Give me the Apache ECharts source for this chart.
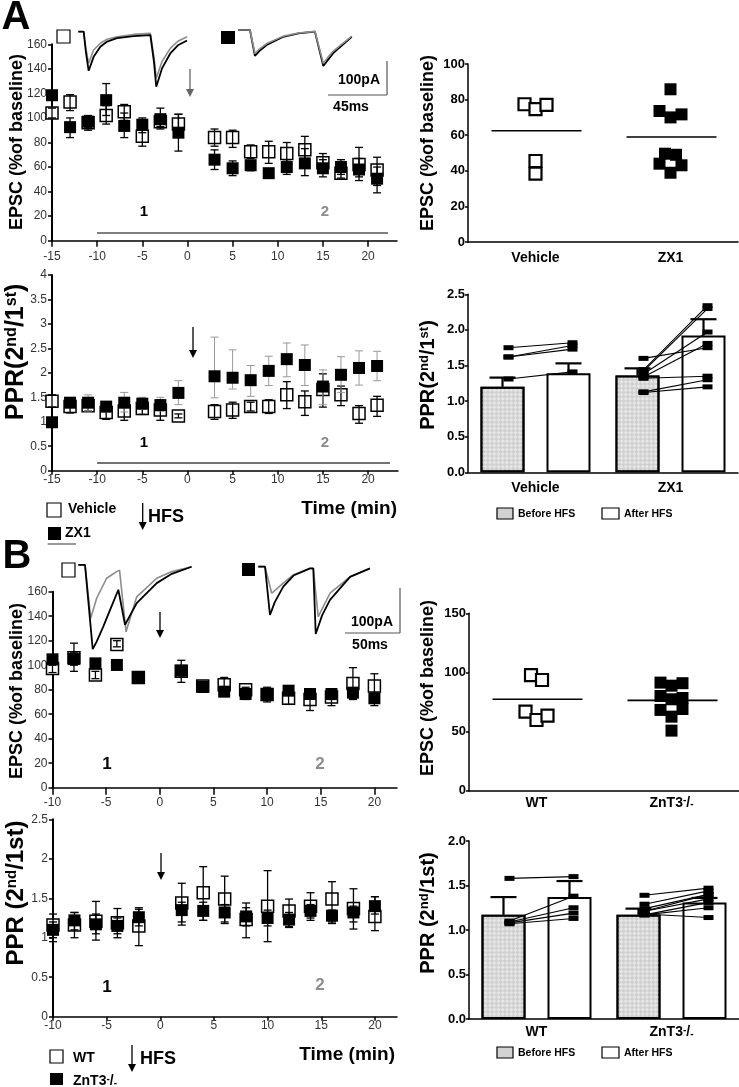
<!DOCTYPE html>
<html><head><meta charset="utf-8">
<script src="https://cdn.jsdelivr.net/npm/echarts@6/dist/echarts.min.js"></script>
<style>html,body{margin:0;padding:0;background:#fff}#c{width:739px;height:1087px}</style>
</head><body><div id="c"></div>
<script>
// ---------------- DATA ----------------
// Panel A time course (min)
const timeA = [-15,-13,-11,-9,-7,-5,-3,-1,3,5,7,9,11,13,15,17,19,21];
const epscVehicle   = [104,113,96,102,105,85,97,95,84,84,72.5,72.5,71,74,63.5,55,62,57.5];
const epscVehicleLo = [100,106,92,95,98,77,93,85,77,76,67,63,63,64,57,51,52,45];
const epscVehicleHi = [108,119,100,110,111,92,101,103,91,90,78,81,80,85,71,60,76,68];
const epscZX1   = [118.5,92.5,97,114.5,93.5,94.5,99,88,66,59,61.5,55,60,63,59,60,58,50.5];
const epscZX1Lo = [115,84,90,102,84,88,91,73,58,53,57,53,54,53,52,54,49,39];
const epscZX1Hi = [122,100,102,128,104,100,108,103,74,65,64,57,66,75,66,66,67,60];
const pprVehicle   = [1.42,1.31,1.33,1.19,1.22,1.27,1.24,1.12,1.21,1.24,1.31,1.31,1.55,1.41,1.66,1.55,1.17,1.34];
const pprVehicleLo = [1.30,1.18,1.22,1.05,1.03,1.15,1.03,1.08,1.05,1.07,1.22,1.17,1.27,1.13,1.30,1.33,0.97,1.11];
const pprVehicleHi = [1.55,1.45,1.45,1.30,1.40,1.45,1.45,1.16,1.35,1.40,1.40,1.45,1.82,1.63,1.98,1.73,1.33,1.52];
const pprZX1   = [0.99,1.39,1.39,1.31,1.39,1.37,1.34,1.59,1.93,1.90,1.85,2.04,2.28,2.16,1.72,1.96,2.10,2.14];
const pprZX1Lo = [0.99,1.30,1.22,1.20,1.20,1.25,1.22,1.35,1.49,1.67,1.52,1.74,1.92,1.74,1.35,1.60,1.75,1.84];
const pprZX1Hi = [0.99,1.48,1.55,1.40,1.60,1.50,1.50,1.84,2.73,2.47,2.15,2.34,2.61,2.57,2.06,2.33,2.45,2.44];
const ticksA = [-15,-10,-5,0,5,10,15,20];

// Panel B time course (min)
const timeB = [-10,-8,-6,-4,-2,2,4,6,8,10,12,14,16,18,20];
const epscWT   = [97.4,106,92,117,90,95,83,84,80,76,73,72,74,85,83];
const epscWTLo = [94,100,89,115,88,93,81,78,73,73,68,63,67,72,74];
const epscWTHi = [100,110,95,120,92,97,85,90,82,79,78,78,79,98,93];
const epscKO   = [104.8,105,101.5,100.2,90,95.5,82.4,78.4,76.5,76.5,79.2,76.5,76.5,77.6,73];
const epscKOLo = [101,95,98,98,88,86,78,76,72,70,76,73,72,73,67];
const epscKOHi = [108,118,104,102,92,104,86,81,79,82,83,79,78,80,76];
const pprWT   = [1.16,1.16,1.21,1.19,1.15,1.44,1.57,1.49,1.23,1.40,1.34,1.40,1.49,1.37,1.27];
const pprWTLo = [1.00,1.00,0.97,1.00,0.90,1.16,1.22,1.18,1.00,0.95,1.13,1.22,1.18,1.11,1.09];
const pprWTHi = [1.30,1.32,1.46,1.37,1.38,1.69,1.90,1.78,1.44,1.85,1.49,1.57,1.71,1.62,1.52];
const pprKO   = [1.10,1.22,1.17,1.15,1.26,1.35,1.34,1.32,1.27,1.25,1.23,1.34,1.28,1.32,1.40];
const pprKOLo = [0.95,1.10,1.05,1.05,1.15,1.20,1.22,1.20,1.15,1.15,1.14,1.25,1.20,1.20,1.30];
const pprKOHi = [1.20,1.32,1.30,1.25,1.36,1.45,1.45,1.42,1.38,1.35,1.32,1.42,1.35,1.40,1.52];
const ticksB = [-10,-5,0,5,10,15,20];

// Scatter (EPSC % of baseline), slot = column within the cluster
const groupsA = ['Vehicle','ZX1'];
const scatVehicle     = [77.4,74.6,77.0,45.5,38.4];
const scatVehicleSlot = [-1,0,1,0,0];
const scatZX1     = [85.8,73.6,70.0,71.7,49.6,49.0,44.0,43.1,38.9];
const scatZX1Slot = [0,-1,0,1,-0.5,0.5,-1,1,0];
const meanA = [62.5,59];
const groupsB = ['WT','ZnT3-/-'];
const scatWT     = [97.8,93.6,66.9,59.8,63.5];
const scatWTSlot = [-0.5,0.5,-1,0,1];
const scatKO     = [91.4,88.8,90.9,80.1,77.3,78.4,68.3,62.6,69.1,50.8];
const scatKOSlot = [-1,0,1,-1,0,1,-1,0,1,0];
const meanB = [77.3,76.4];

// Bars (PPR before / after HFS)
const barBeforeA = [1.20,1.36], barBeforeAErr = [1.33,1.46];
const barAfterA  = [1.39,1.92], barAfterAErr  = [1.53,2.15];
const pairsVehicle = [[1.75,1.82],[1.62,1.78],[1.62,1.73],[1.31,1.41]];
const pairsZX1 = [[1.60,1.75],[1.44,2.34],[1.42,2.30],[1.38,1.97],[1.34,1.81],[1.32,1.35],[1.13,1.30],[1.12,1.20]];
const barBeforeB = [1.17,1.17], barBeforeBErr = [1.37,1.24];
const barAfterB  = [1.37,1.31], barAfterBErr  = [1.55,1.36];
const pairsWT = [[1.58,1.60],[1.10,1.38],[1.09,1.25],[1.08,1.19],[1.07,1.13]];
const pairsKO = [[1.39,1.47],[1.29,1.44],[1.24,1.40],[1.21,1.35],[1.17,1.25],[1.18,1.14],[1.21,1.40],[1.17,1.31]];

// Example traces [ms, pA]
const trVehBlack = [[0,0],[4.1,0],[5.8,-60],[7.9,-115],[11.7,-74],[16.8,-44],[22,-29],[29.5,-19],[42.2,-13],[55,-10],[56.2,-15],[57.8,-90],[59.5,-162],[63.9,-108],[70.2,-64],[76,-40],[83,-26]];
const trVehGrey  = [[0,0],[4.1,0],[5.8,-50],[7.9,-93],[11.7,-54],[16.8,-34],[22,-22],[29.5,-15],[42.2,-8],[55,-5],[56.2,-8],[57.8,-75],[59.5,-137],[63.9,-88],[70.2,-49],[76,-28],[83,-15]];
const trZX1Black = [[0,0],[8.9,0],[12.7,-76],[16,-62],[21.7,-44],[34.4,-20],[46,-10],[58.5,-5],[59.8,-5],[64.9,-106],[68,-90],[72.5,-68],[86.6,-20]];
const trZX1Grey  = [[0,0],[8.9,0],[12.7,-69],[16,-56],[21.7,-40],[34.4,-18],[46,-9],[58.5,-4],[59.8,-4],[64.9,-98],[68,-82],[72.5,-62],[86.6,-18]];
const trWTBlack = [[0,0],[6.1,0],[13.1,-190],[16.7,-173],[22.7,-139],[28.8,-102],[36.4,-56],[37.9,-60],[42.5,-135],[53.1,-86],[71.3,-41],[85,-20],[103,-4]];
const trWTGrey  = [[0,0],[6.1,0],[11.3,-120],[16.7,-75],[25.8,-30],[34.9,-15],[37.5,-12],[43.4,-151],[53.1,-72],[71.3,-30],[85,-15],[103,-4]];
const trKOBlack = [[0,0],[6.1,0],[10.6,-109],[15,-80],[22.7,-45],[32,-20],[47,-4],[50,-4],[52.2,-152],[58,-110],[65.2,-75],[83.4,-23],[101.5,-4]];
const trKOGrey  = [[0,0],[6.1,0],[12.2,-60],[22.7,-37],[32,-18],[47,-4],[50,-4],[54.5,-113],[65.2,-60],[83.4,-23],[101.5,-4]];

// ---------------- STYLE / LAYOUT ----------------
const FF = 'Liberation Sans, Arial, sans-serif';
const GREY = '#8c8c8c';
const BAR_W = 44, BAR_OFF = 33;

const grids = [
  {left:52, top:44.3, width:345, height:196.4},   // 0 A EPSC
  {left:52, top:275, width:346, height:195.7},    // 1 A PPR
  {left:468, top:64, width:270, height:178},      // 2 A scatter
  {left:468, top:294.3, width:270, height:178},   // 3 A bars
  {left:52.5, top:591.7, width:344.5, height:196},// 4 B EPSC
  {left:53, top:819.3, width:344, height:197.4},  // 5 B PPR
  {left:469, top:613.3, width:270, height:177.4}, // 6 B scatter
  {left:469, top:841, width:270, height:178},     // 7 B bars
  {left:78.3, top:24.9, width:115, height:75},    // 8 trace A vehicle
  {left:238.3, top:23.2, width:118, height:75},   // 9 trace A ZX1
  {left:78.3, top:556.1, width:118, height:100},  // 10 trace B WT
  {left:258.3, top:557.8, width:115, height:100}  // 11 trace B KO
];
const traceScale = [[1.31,0.34],[1.31,0.34],[1.1,0.443],[1.1,0.443]];

const xAxes = [], yAxes = [];
function tcX(g, min, max, ticks, margin, tlen) {
  xAxes.push({type:'value', gridIndex:g, min, max,
    axisLine:{show:true, onZero:false, lineStyle:{color:'#000', width:1.5}},
    axisTick:{show:true, customValues:ticks, length:tlen, lineStyle:{color:'#000', width:1.5}},
    axisLabel:{show:true, customValues:ticks, color:'#333', fontSize:12, margin, fontFamily:FF},
    splitLine:{show:false}});
}
function tcY(g, max, interval) {
  yAxes.push({type:'value', gridIndex:g, min:0, max, interval,
    axisLine:{show:true, onZero:false, lineStyle:{color:'#000', width:2}},
    axisTick:{show:true, length:4, lineStyle:{color:'#000', width:1.5}},
    axisLabel:{color:'#333', fontSize:12, margin:5, fontFamily:FF},
    splitLine:{show:false}});
}
function rX(g, cats, margin) {
  xAxes.push({type:'category', gridIndex:g, data:cats,
    axisLine:{show:true, onZero:false, lineStyle:{color:'#000', width:1.5}},
    axisTick:{show:false},
    axisLabel:{color:'#000', fontSize:14, fontWeight:'bold', margin, fontFamily:FF, interval:0, hideOverlap:false,
      formatter: v => v === 'ZnT3-/-' ? 'ZnT3{sup|-}/{sub|-}' : v,
      rich:{sup:{fontSize:10, fontWeight:'bold', verticalAlign:'top', fontFamily:FF}, sub:{fontSize:10, fontWeight:'bold', verticalAlign:'bottom', fontFamily:FF}}},
    splitLine:{show:false}});
}
function rY(g, max, interval, dec) {
  yAxes.push({type:'value', gridIndex:g, min:0, max, interval,
    axisLine:{show:true, onZero:false, lineStyle:{color:'#000', width:1.5}},
    axisTick:{show:true, length:3, lineStyle:{color:'#000', width:1.5}},
    axisLabel:{color:'#000', fontSize:13, fontWeight:'bold', margin:3, fontFamily:FF, formatter: v => v.toFixed(dec)},
    splitLine:{show:false}});
}
tcX(0, -15, -15 + 345/9.03, ticksA, 10, 6); tcY(0, 160, 20);
tcX(1, -15, -15 + 346/9.03, ticksA, 3, 4); tcY(1, 4, 0.5);
rX(2, groupsA, 9); rY(2, 100, 20, 0);
rX(3, groupsA, 9); rY(3, 2.5, 0.5, 1);
tcX(4, -10, -10 + 344.5/10.73, ticksB, 9, 7); tcY(4, 160, 20);
tcX(5, -10, -10 + 344/10.73, ticksB, 3, 4); tcY(5, 2.5, 0.5);
rX(6, groupsB, 5); rY(6, 150, 50, 0);
rX(7, groupsB, 6); rY(7, 2.0, 0.5, 1);
for (let i = 0; i < 4; i++) {
  const g = grids[8+i], s = traceScale[i];
  xAxes.push({type:'value', gridIndex:8+i, show:false, min:0, max:g.width/s[0]});
  yAxes.push({type:'value', gridIndex:8+i, show:false, min:20 - g.height/s[1], max:20});
}

const series = [];
function errSeries(g, xs, lo, hi, color, cap, w, z) {
  series.push({type:'custom', xAxisIndex:g, yAxisIndex:g, z, silent:true,
    data: xs.map((x,i)=>[x, lo[i], hi[i]]),
    encode:{x:0, y:[1,2]},
    renderItem(p, api){
      const x = api.value(0), a = api.coord([x, api.value(1)]), b = api.coord([x, api.value(2)]);
      const st = {stroke:color, lineWidth:w};
      return {type:'group', children:[
        {type:'line', shape:{x1:a[0], y1:a[1], x2:b[0], y2:b[1]}, style:st},
        {type:'line', shape:{x1:a[0]-cap, y1:a[1], x2:a[0]+cap, y2:a[1]}, style:st},
        {type:'line', shape:{x1:b[0]-cap, y1:b[1], x2:b[0]+cap, y2:b[1]}, style:st}]};
    }});
}
function marks(g, xs, ys, open, size, z) {
  series.push({type:'scatter', xAxisIndex:g, yAxisIndex:g, z, symbol:'rect', symbolSize:size, silent:true,
    data: xs.map((x,i)=>[x, ys[i]]),
    itemStyle: open ? {color:'#fff', borderColor:'#000', borderWidth:1.5, opacity:1} : {color:'#000', opacity:1}});
}
// A EPSC
marks(0, timeA, epscVehicle, true, 12, 2);
errSeries(0, timeA, epscVehicleLo, epscVehicleHi, '#000', 4, 1.3, 3);
errSeries(0, timeA, epscZX1Lo, epscZX1Hi, '#000', 4, 1.3, 3);
marks(0, timeA, epscZX1, false, 12, 4);
// A PPR
marks(1, timeA, pprVehicle, true, 12, 2);
errSeries(1, timeA, pprVehicleLo, pprVehicleHi, '#000', 4, 1.3, 3);
errSeries(1, timeA, pprZX1Lo, pprZX1Hi, '#999', 4, 1, 3);
marks(1, timeA, pprZX1, false, 12, 4);
// B EPSC
marks(4, timeB, epscWT, true, 12, 2);
errSeries(4, timeB, epscWTLo, epscWTHi, '#000', 4, 1.3, 3);
errSeries(4, timeB, epscKOLo, epscKOHi, '#000', 4, 1.3, 3);
marks(4, timeB, epscKO, false, 12, 4);
// B PPR
marks(5, timeB, pprWT, true, 12, 2);
errSeries(5, timeB, pprWTLo, pprWTHi, '#000', 4, 1.3, 3);
errSeries(5, timeB, pprKOLo, pprKOHi, '#000', 4, 1.3, 3);
marks(5, timeB, pprKO, false, 12, 4);

// Scatter panels
function scat(g, cat, vals, slots, open) {
  series.push({type:'scatter', xAxisIndex:g, yAxisIndex:g, z:3, symbol:'rect', symbolSize:12, silent:true,
    data: vals.map((v,i)=>({value:[cat, v], symbolOffset:[slots[i]*11, 0]})),
    itemStyle: open ? {color:'#fff', borderColor:'#000', borderWidth:2.2, opacity:1} : {color:'#000', opacity:1}});
}
function meanLine(g, means) {
  series.push({type:'custom', xAxisIndex:g, yAxisIndex:g, z:2, silent:true,
    data: means.map((m,i)=>[i, m]),
    renderItem(p, api){
      const c = api.coord([api.value(0), api.value(1)]);
      return {type:'line', shape:{x1:c[0]-44, y1:c[1], x2:c[0]+46, y2:c[1]}, style:{stroke:'#000', lineWidth:1.6}};
    }});
}
scat(2, 0, scatVehicle, scatVehicleSlot, true);
scat(2, 1, scatZX1, scatZX1Slot, false);
meanLine(2, meanA);
scat(6, 0, scatWT, scatWTSlot, true);
scat(6, 1, scatKO, scatKOSlot, false);
meanLine(6, meanB);

// Bar panels
const beforeStyle = {color:'#cfcfcf', borderColor:'#000', borderWidth:2,
  decal:{symbol:'rect', symbolSize:0.9, rotation:Math.PI/4, color:'rgba(255,255,255,0.55)', dashArrayX:[[3,3],[0,3,3,0]], dashArrayY:[3,0]}};
const afterStyle = {color:'#fff', borderColor:'#000', borderWidth:2};
function bars(g, before, beforeErr, after, afterErr, pairSets) {
  series.push({type:'bar', xAxisIndex:g, yAxisIndex:g, z:2, silent:true, barWidth:BAR_W, barGap:'50%', data:before, itemStyle:beforeStyle});
  series.push({type:'bar', xAxisIndex:g, yAxisIndex:g, z:2, silent:true, barWidth:BAR_W, barGap:'50%', data:after, itemStyle:afterStyle});
  const errData = [];
  before.forEach((v,i)=>errData.push([i, v, beforeErr[i], -1]));
  after.forEach((v,i)=>errData.push([i, v, afterErr[i], 1]));
  series.push({type:'custom', xAxisIndex:g, yAxisIndex:g, z:3, silent:true, data:errData,
    renderItem(p, api){
      const side = api.value(3);
      const a = api.coord([api.value(0), api.value(1)]), b = api.coord([api.value(0), api.value(2)]);
      const x = a[0] + side*BAR_OFF, st = {stroke:'#000', lineWidth:2.2};
      return {type:'group', children:[
        {type:'line', shape:{x1:x, y1:a[1], x2:x, y2:b[1]}, style:st},
        {type:'line', shape:{x1:x-13, y1:b[1], x2:x+13, y2:b[1]}, style:st}]};
    }});
  const pd = [];
  pairSets.forEach((set,ci)=>set.forEach(p=>pd.push([ci, p[0], p[1]])));
  series.push({type:'custom', xAxisIndex:g, yAxisIndex:g, z:4, silent:true, data:pd,
    renderItem(p, api){
      const a = api.coord([api.value(0), api.value(1)]), b = api.coord([api.value(0), api.value(2)]);
      const x1 = a[0] - BAR_OFF + 6, x2 = b[0] + BAR_OFF + 4;
      return {type:'group', children:[
        {type:'line', shape:{x1, y1:a[1], x2, y2:b[1]}, style:{stroke:'#000', lineWidth:1.1}},
        {type:'rect', shape:{x:x1-5, y:a[1]-2.5, width:10, height:5}, style:{fill:'#000'}},
        {type:'rect', shape:{x:x2-5, y:b[1]-2.5, width:10, height:5}, style:{fill:'#000'}}]};
    }});
}
bars(3, barBeforeA, barBeforeAErr, barAfterA, barAfterAErr, [pairsVehicle, pairsZX1]);
bars(7, barBeforeB, barBeforeBErr, barAfterB, barAfterBErr, [pairsWT, pairsKO]);

// Traces
function trace(g, data, color, w, z) {
  series.push({type:'line', xAxisIndex:g, yAxisIndex:g, z, silent:true, symbol:'none', data,
    lineStyle:{color, width:w}});
}
trace(8, trVehGrey, GREY, 1.6, 2); trace(8, trVehBlack, '#000', 1.8, 3);
trace(9, trZX1Black, '#000', 1.8, 2); trace(9, trZX1Grey, GREY, 1.6, 3);
trace(10, trWTGrey, GREY, 1.6, 2); trace(10, trWTBlack, '#000', 1.8, 3);
trace(11, trKOGrey, GREY, 1.6, 2); trace(11, trKOBlack, '#000', 1.8, 3);

// ---------------- GRAPHICS (labels, arrows, legends) ----------------
const gr = [];
function T(x, y, text, size, o) {
  o = o || {};
  gr.push({type:'text', x, y, rotation:o.rot||0, z:10, silent:true,
    style:{text, fill:o.color||'#000', font:(o.weight||'bold')+' '+size+'px '+FF,
      align:o.align||'center', verticalAlign:'middle', rich:o.rich}});
}
function L(x1,y1,x2,y2,color,w) { gr.push({type:'line', z:10, silent:true, shape:{x1,y1,x2,y2}, style:{stroke:color||'#000', lineWidth:w||1}}); }
function R(x,y,w,h,fill,stroke) { gr.push({type:'rect', z:10, silent:true, shape:{x,y,width:w,height:h}, style:{fill, stroke, lineWidth:stroke?1.2:0}}); }
function arrow(x, y1, y2, color) {
  L(x, y1, x, y2-5, color, 1.3);
  gr.push({type:'polygon', z:10, silent:true, shape:{points:[[x-4,y2-8],[x+4,y2-8],[x,y2]]}, style:{fill:color}});
}
const ROT = Math.PI/2;
function supRich(size) { return {sup:{fontSize:size, fontWeight:'bold', fontFamily:FF, verticalAlign:'top'}, sub:{fontSize:size, fontWeight:'bold', fontFamily:FF, verticalAlign:'bottom'}}; }

T(16, 18, 'A', 40); T(17, 557, 'B', 40);
// left axis titles
T(17, 142, 'EPSC (%of baseline)', 18, {rot:ROT});
T(16, 352, 'PPR(2{sup|nd}/1{sup|st})', 25, {rot:ROT, rich:supRich(16)});
T(17, 691, 'EPSC (%of baseline)', 18, {rot:ROT});
T(16, 893, 'PPR (2{sup|nd}/1st)', 24, {rot:ROT, rich:supRich(15)});
// right axis titles
T(428, 143, 'EPSC (%of baseline)', 18, {rot:ROT});
T(428, 375, 'PPR(2{sup|nd}/1{sup|st})', 20, {rot:ROT, rich:supRich(13)});
T(428, 688, 'EPSC (%of baseline)', 18, {rot:ROT});
T(428, 913, 'PPR (2{sup|nd}/1st)', 20, {rot:ROT, rich:supRich(13)});
// period labels
T(144, 212, '1', 15); T(325, 212, '2', 15, {color:GREY}); L(97, 233, 388, 233, '#000', 1);
T(144, 443, '1', 15); T(325, 443, '2', 15, {color:GREY}); L(97, 463, 390, 463, '#444', 1.5);
T(107, 764, '1', 17); T(320, 764, '2', 17, {color:GREY});
T(107, 987, '1', 17); T(320, 985, '2', 17, {color:GREY});
// HFS arrows
arrow(190, 69, 97, '#666'); arrow(193, 327, 358, '#000');
arrow(160, 612, 638, '#000'); arrow(161, 853, 880, '#000');
// scale bars
L(387, 61, 387, 95, '#555', 1.2); L(328, 95, 387, 95, '#555', 1.2);
T(359, 80, '100pA', 14); T(351, 107, '45ms', 14);
L(400, 588, 400, 633, '#555', 1.2); L(345, 633, 400, 633, '#555', 1.2);
T(372, 622, '100pA', 14); T(370, 645, '50ms', 14);
// trace icons
R(57, 30, 13, 13, '#fff', '#000'); R(221, 31, 14, 13, '#000');
R(62, 563, 13, 14, '#fff', '#000'); R(242, 563, 13, 13, '#000');
// bottom legends A
R(47, 503, 14, 14, '#fff', '#000'); T(68, 509, 'Vehicle', 14, {align:'left'});
R(48, 527, 13, 13, '#000'); T(65, 533, 'ZX1', 14, {align:'left'}); L(47.7, 544, 76, 544, '#333', 1);
arrow(142.7, 503, 530, '#000'); T(148, 517, 'HFS', 18, {align:'left'});
T(397, 509, 'Time (min)', 19, {align:'right'});
// bottom legends B
R(50, 1050, 13, 13, '#fff', '#000'); T(73, 1058, 'WT', 14, {align:'left'});
R(50, 1073, 13, 12, '#000'); T(73, 1081, 'ZnT3{sup|-}/{sub|-}', 14, {align:'left', rich:supRich(10)});
arrow(132, 1045, 1072, '#000'); T(140, 1059, 'HFS', 18, {align:'left'});
T(395, 1055, 'Time (min)', 19, {align:'right'});
// bar legends
R(497, 508, 16, 11, '#d2d2d2', '#000'); T(518, 514, 'Before HFS', 10.5, {align:'left'});
R(602, 508, 17, 11, '#fff', '#000'); T(624, 514, 'After HFS', 10.5, {align:'left'});
R(497, 1047, 16, 11, '#d2d2d2', '#000'); T(518, 1053, 'Before HFS', 10.5, {align:'left'});
R(602, 1047, 17, 11, '#fff', '#000'); T(624, 1053, 'After HFS', 10.5, {align:'left'});

const chart = echarts.init(document.getElementById('c'), null, {renderer:'canvas'});
chart.setOption({
  animation:false, backgroundColor:'#fff',
  textStyle:{fontFamily:FF},
  grid: grids, xAxis: xAxes, yAxis: yAxes, series, graphic: gr
});
</script></body></html>
